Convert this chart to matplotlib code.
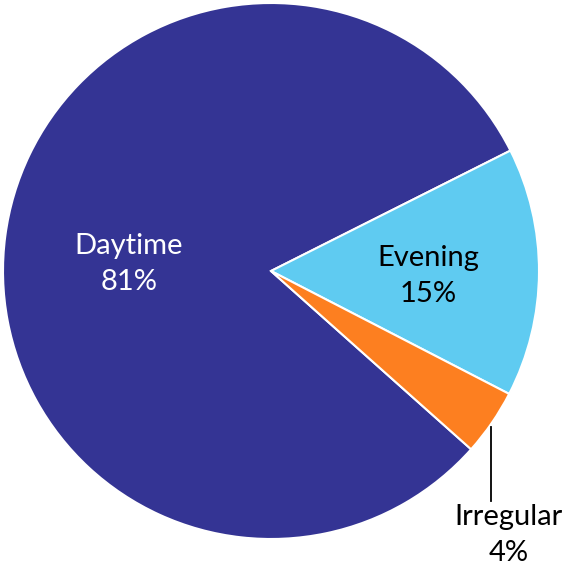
import matplotlib
matplotlib.use("Agg")
import matplotlib.pyplot as plt

categories = ["Daytime", "Evening", "Irregular"]
values = [81, 15, 4]
colors = ["#343494", "#5fcbf1", "#fd7f20"]

plt.rcParams['font.family'] = ['Lato', 'DejaVu Sans']

W, H = 569, 567
fig = plt.figure(figsize=(W / 100, H / 100), dpi=100)
ax = fig.add_axes([0, 0, 1, 1])
cx, cy, R = 271, 271, 268

def px(x, y):
    return (x - cx) / R, (cy - y) / R

ax.pie(values, colors=colors, startangle=-41.7, counterclock=False,
       radius=1, center=(0, 0),
       wedgeprops=dict(edgecolor="white", linewidth=1.5))
ax.set_xlim(-cx / R, (W - cx) / R)
ax.set_ylim(-(H - cy) / R, cy / R)
ax.set_aspect('auto')
ax.axis('off')

fs = 21
label_pos = {"Daytime": (129, 264), "Evening": (428, 276), "Irregular": (509, 535)}
text_col = {"Daytime": "white", "Evening": "black", "Irregular": "black"}
for cat, v in zip(categories, values):
    x, y = px(*label_pos[cat])
    ax.text(x, y, f"{cat}\n{v}%", ha="center", va="center", fontsize=fs,
            color=text_col[cat], linespacing=1.48)

x0, y0 = px(491, 427)
x1, y1 = px(491, 501)
ax.plot([x0, x1], [y0, y1], color="black", lw=1.3)

fig.savefig("out.png", dpi=100)
